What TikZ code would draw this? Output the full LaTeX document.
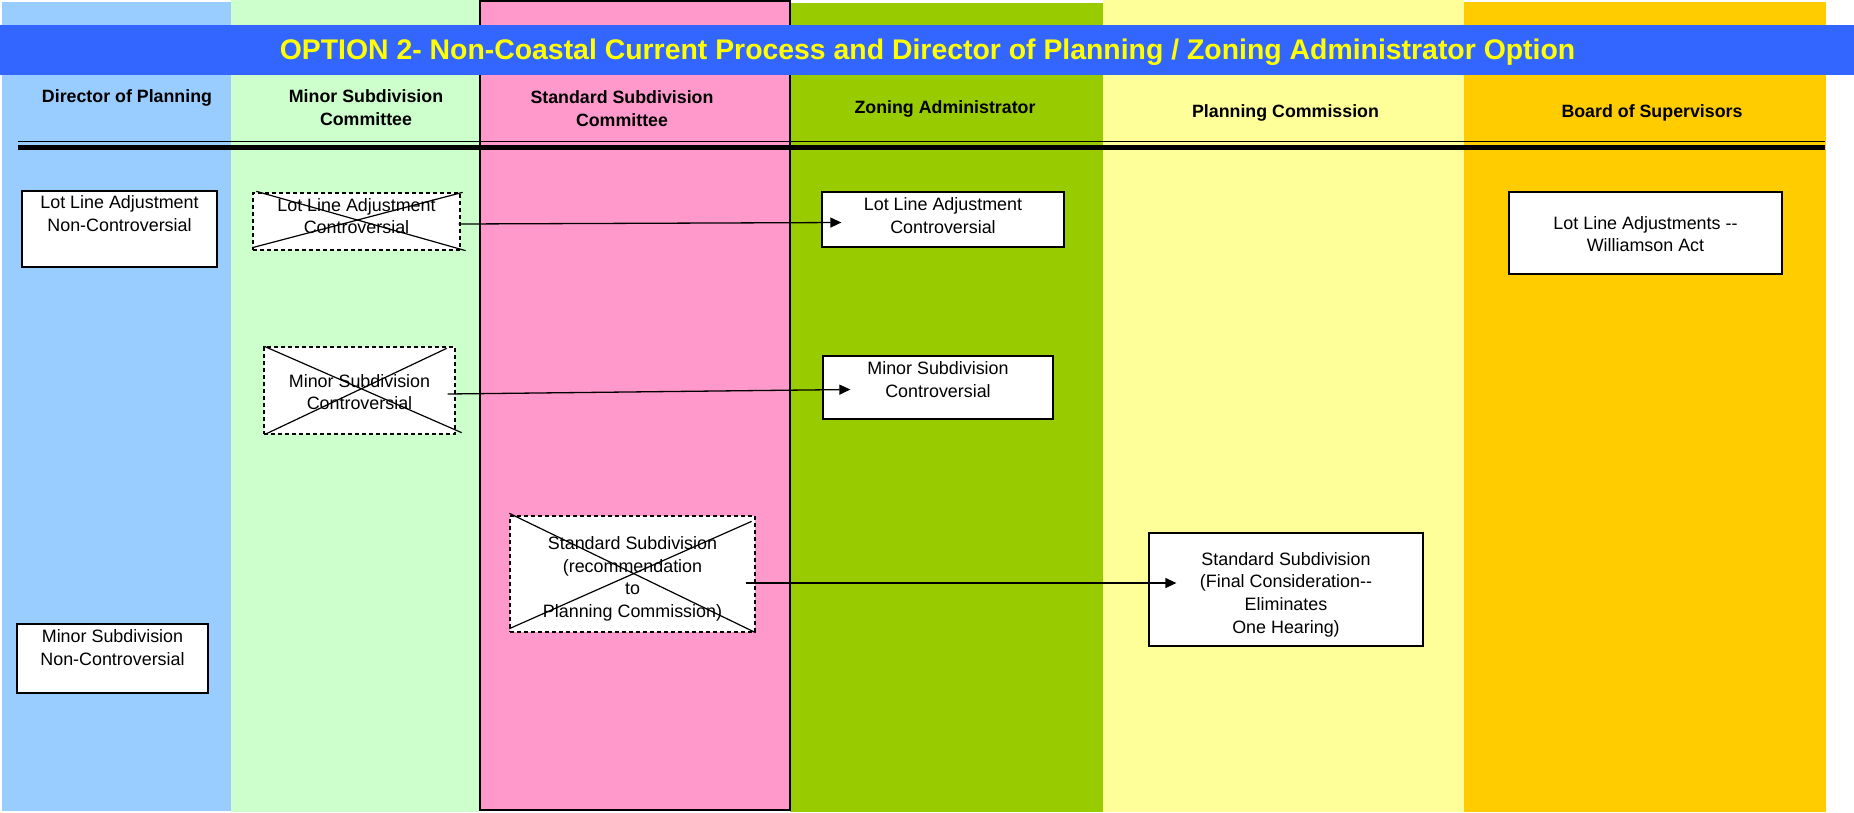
\documentclass[tikz,border=0pt]{standalone}
\usepackage{fontspec}
\setmainfont{Liberation Sans}
\usetikzlibrary{arrows.meta,calc}
\definecolor{colblue}{HTML}{99CCFF}
\definecolor{colgreen}{HTML}{CCFFCC}
\definecolor{colpink}{HTML}{FF99CC}
\definecolor{colzone}{HTML}{99CC00}
\definecolor{colyellow}{HTML}{FFFF99}
\definecolor{colorange}{HTML}{FFCC00}
\definecolor{titleblue}{HTML}{3366FF}
\definecolor{titleyellow}{HTML}{FFFF00}
\newcommand\bstr{\rule[-4.95pt]{0pt}{22.7pt}}
\newcommand\hstr{\rule[-5.1pt]{0pt}{23pt}}
\begin{document}
\begin{tikzpicture}[x=1pt,y=-1pt,
  solidbox/.style={draw=black, line width=1.3pt, fill=white, rectangle, inner sep=0pt},
  dashbox/.style={draw=black, line width=1.3pt, dash pattern=on 4pt off 3pt, fill=white, rectangle, inner sep=0pt},
  bodytxt/.style={font=\fontsize{17.9}{22.7}\selectfont, align=center, inner sep=0pt},
  headtxt/.style={font=\bfseries\fontsize{17.8}{23}\selectfont, align=center, inner sep=0pt},
  titletxt/.style={font=\bfseries\fontsize{28.4}{34}\selectfont, text=titleyellow, inner sep=0pt, anchor=base},
  crossline/.style={black, line width=1.2pt},
  flow/.style={black, line width=1.3pt, -{Triangle[length=11pt,width=10pt]}}]
\useasboundingbox (0,0) rectangle (1854,812);
\fill[white] (0,0) rectangle (1854,812);
% columns
\fill[colblue] (2,2) rectangle (231,811);
\fill[colgreen] (231,0) rectangle (479,812);
\fill[colpink] (479,0) rectangle (790,811);
\fill[colzone] (790,3) rectangle (1103,812);
\fill[colyellow] (1103,0) rectangle (1464,812);
\fill[colorange] (1464,2) rectangle (1826,812);
\draw[black, line width=2pt] (480,1) rectangle (790,809.5);
% title bar
\fill[titleblue] (0,25) rectangle (1854,75);
\node[titletxt] (title) at (927.5,59.7) {OPTION 2- Non-Coastal Current Process and Director of Planning / Zoning Administrator Option};
% headers
\node[headtxt] (hDP) at (127,96) {\hstr Director of Planning};
\node[headtxt] (hMS) at (366,107.5) {\hstr Minor Subdivision\\\hstr Committee};
\node[headtxt] (hSS) at (622,109) {\hstr Standard Subdivision\\\hstr Committee};
\node[headtxt] (hZA) at (945,107.5) {\hstr Zoning Administrator};
\node[headtxt] (hPC) at (1285.5,111) {\hstr Planning Commission};
\node[headtxt] (hBS) at (1652,111) {\hstr Board of Supervisors};
% double rule
\draw[black, line width=1.2pt] (18,141.5) -- (1825,141.5);
\draw[black, line width=5pt] (18,147) -- (1825,147);
% boxes
\node[solidbox, minimum width=195pt, minimum height=76pt] (A) at (119.5,229) {};
\node[bodytxt] (At) at (119.5,213.5) {\bstr Lot Line Adjustment\\\bstr Non-Controversial};
\node[dashbox, minimum width=207pt, minimum height=57pt] (B) at (356.5,221.5) {};
\node[bodytxt] (Bt) at (356.5,216) {\bstr Lot Line Adjustment\\\bstr Controversial};
\node[solidbox, minimum width=242pt, minimum height=55pt] (C) at (943,219.5) {};
\node[bodytxt] (Ct) at (943,215.5) {\bstr Lot Line Adjustment\\\bstr Controversial};
\node[dashbox, minimum width=191pt, minimum height=87pt] (D) at (359.5,390.5) {};
\node[bodytxt] (Dt) at (359.5,392) {\bstr Minor Subdivision\\\bstr Controversial};
\node[solidbox, minimum width=230pt, minimum height=63pt] (E) at (938,387.5) {};
\node[bodytxt] (Et) at (938,379.5) {\bstr Minor Subdivision\\\bstr Controversial};
\node[solidbox, minimum width=273pt, minimum height=82pt] (F) at (1645.5,233) {};
\node[bodytxt] (Ft) at (1645.5,234) {\bstr Lot Line Adjustments -{}-\\\bstr Williamson Act};
\node[dashbox, minimum width=245pt, minimum height=116pt] (G) at (632.5,574) {};
\node[bodytxt] (Gt) at (632.5,577) {\bstr Standard Subdivision\\\bstr (recommendation\\\bstr to\\\bstr Planning Commission)};
\node[solidbox, minimum width=274pt, minimum height=113pt] (H) at (1286,589.5) {};
\node[bodytxt] (Ht) at (1286,592.8) {\bstr Standard Subdivision\\\bstr (Final Consideration-{}-\\\bstr Eliminates\\\bstr One Hearing)};
\node[solidbox, minimum width=191pt, minimum height=69pt] (I) at (112.5,658.5) {};
\node[bodytxt] (It) at (112.5,647.5) {\bstr Minor Subdivision\\\bstr Non-Controversial};
% crosses on dashed boxes
\draw[crossline] ($(B.north west)+(4,-1)$) -- ($(B.south east)+(5,0)$);
\draw[crossline] ($(B.south west)+(0,-3)$) -- ($(B.north east)+(2,0)$);
\draw[crossline] ($(D.north west)+(1,0)$) -- ($(D.south east)+(6,-2)$);
\draw[crossline] ($(D.south west)+(1,0)$) -- ($(D.north east)+(-9,2)$);
\draw[crossline] ($(G.north west)+(0,-2)$) -- (G.south east);
\draw[crossline] ($(G.south west)+(0,-4)$) -- ($(G.north east)+(-4,6)$);
% connectors
\draw[flow] ($(B.east)+(-2,2.5)$) -- ($(C.west)+(20,3)$);
\draw[flow] ($(D.east)+(-8,3.5)$) -- ($(E.west)+(28,2)$);
\draw[flow] ($(G.east)+(-10,9)$) -- ($(H.west)+(28,-6.5)$);
\end{tikzpicture}
\end{document}
